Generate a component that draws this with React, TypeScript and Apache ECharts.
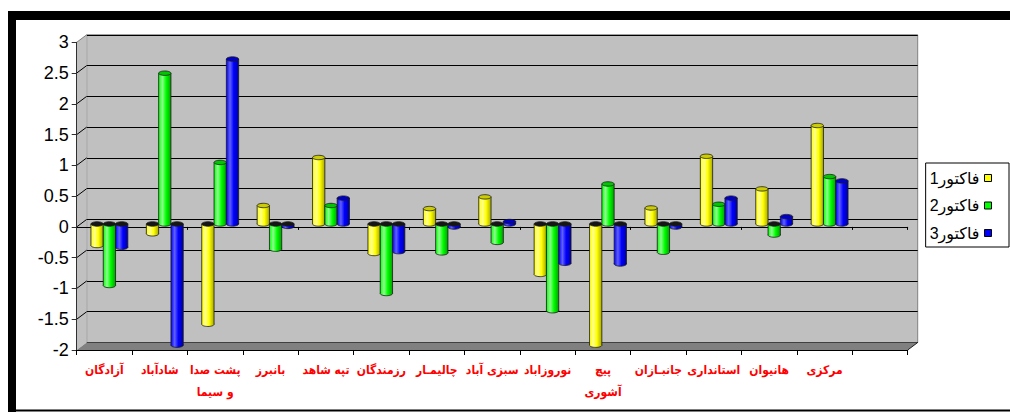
import React, { useEffect, useRef } from 'react';
import * as echarts from 'echarts';

const categories = ['آزادگان', 'شادآباد', 'پشت صدا\nو سیما', 'بانبرز', 'تپه شاهد', 'رزمندگان', 'چالیمـار', 'سبزی آباد', 'نوروزاباد', 'پیچ\nآشوری', 'جانبـازان', 'استانداری', 'هانیوان', 'مرکزی', ''];
const factor1 = [-0.35, -0.16, -1.63, 0.3, 1.08, -0.48, 0.25, 0.44, -0.82, -1.97, 0.26, 1.1, 0.57, 1.6];
const factor2 = [-1.0, 2.45, 1.0, -0.41, 0.3, -1.13, -0.47, -0.3, -1.41, 0.65, -0.46, 0.32, -0.18, 0.77];
const factor3 = [-0.38, -1.97, 2.68, -0.04, 0.42, -0.45, -0.05, 0.04, -0.64, -0.65, -0.05, 0.42, 0.12, 0.7];
const seriesNames = ['فاکتور1', 'فاکتور2', 'فاکتور3'];
const Y_MIN = -2;
const Y_MAX = 3;
const Y_STEP = 0.5;

const DX = 10;
const DY = -7.5;

const palettes = [
  { base: '#ffff00', light: '#ffff90', dark: '#a8a800', cap: '#cccc00' },
  { base: '#00ff00', light: '#90ff90', dark: '#00a000', cap: '#00c800' },
  { base: '#0000ff', light: '#6060ff', dark: '#0000a0', cap: '#0000c8' },
];

function makeBarRender(s: number) {
  const pal = palettes[s];
  return (params: any, api: any) => {
    const ci = api.value(0);
    const v = api.value(1);
    if (isNaN(v)) return null;
    const band = api.size([1, 0])[0];
    const w = band * 0.222;
    const zero = api.coord([ci, 0]);
    const end = api.coord([ci, v]);
    const x0 = zero[0] + DX / 2 - 1.5 * w + s * w;
    const yz = zero[1] + DY / 2 + 0.8;
    const yv = end[1] + DY / 2 + 0.8;
    const pos = v >= 0;
    const top = Math.min(yz, yv);
    const bottom = Math.max(yz, yv);
    const ry = 2.2;
    const cx = x0 + w / 2;
    const grad = new echarts.graphic.LinearGradient(0, 0, 1, 0, [
      { offset: 0, color: pal.base },
      { offset: 0.3, color: pal.light },
      { offset: 0.6, color: pal.base },
      { offset: 1, color: pal.dark },
    ]);
    const stroke = '#1a1a1a';
    return {
      type: 'group',
      children: [
        { type: 'ellipse', shape: { cx, cy: bottom, rx: w / 2, ry }, style: { fill: grad, stroke, lineWidth: 0.8 } },
        { type: 'rect', shape: { x: x0, y: top, width: w, height: bottom - top }, style: { fill: grad } },
        { type: 'line', shape: { x1: x0, y1: top, x2: x0, y2: bottom }, style: { stroke, lineWidth: 0.8 } },
        { type: 'line', shape: { x1: x0 + w, y1: top, x2: x0 + w, y2: bottom }, style: { stroke, lineWidth: 0.8 } },
        { type: 'ellipse', shape: { cx, cy: top, rx: w / 2, ry }, style: { fill: pos ? pal.cap : '#151515', stroke, lineWidth: 0.8 } },
      ],
    };
  };
}

function decorRender(params: any, api: any) {
  const band = api.size([1, 0])[0];
  const xL = api.coord([0, 0])[0] - band / 2;
  const xR = api.coord([categories.length - 1, 0])[0] + band / 2;
  const yTop = api.coord([0, Y_MAX])[1];
  const yBot = api.coord([0, Y_MIN])[1];
  const children: any[] = [
    {
      type: 'polygon',
      shape: { points: [[xL, yTop], [xL + DX, yTop + DY], [xL + DX, yBot + DY], [xL, yBot]] },
      style: { fill: '#c0c0c0' },
    },
    {
      type: 'polygon',
      shape: { points: [[xL, yBot], [xR, yBot], [xR + DX, yBot + DY], [xL + DX, yBot + DY]] },
      style: { fill: '#808080' },
    },
    { type: 'line', shape: { x1: xL, y1: yTop, x2: xL + DX, y2: yTop + DY }, style: { stroke: '#808080', lineWidth: 1 } },
    { type: 'line', shape: { x1: xR, y1: yBot, x2: xR + DX, y2: yBot + DY }, style: { stroke: '#202020', lineWidth: 1 } },
  ];
  for (let v = Y_MIN + Y_STEP; v < Y_MAX - 1e-9; v += Y_STEP) {
    const y = api.coord([0, v])[1];
    children.push({ type: 'line', shape: { x1: xL, y1: y, x2: xL + DX, y2: y + DY }, style: { stroke: '#000', lineWidth: 1 } });
  }
  return { type: 'group', children };
}

export default function App() {
  const ref = useRef<HTMLDivElement>(null);
  useEffect(() => {
    if (!ref.current) return;
    const chart = echarts.init(ref.current, null, { renderer: 'svg' });
    const factors = [factor1, factor2, factor3];
    const W = 1010;
    const H = 412;
    const front = { left: 76.7, top: 42.3, right: W - 907.7, bottom: H - 350 };
    const back = { left: front.left + DX, top: front.top + DY, right: front.right - DX, bottom: front.bottom - DY };
    const option: any = {
      animation: false,
      backgroundColor: '#ffffff',
      textStyle: { fontFamily: 'Arial, "Liberation Sans", "DejaVu Sans", sans-serif' },
      graphic: [
        { type: 'rect', shape: { x: 8, y: 11, width: 1002, height: 9 }, style: { fill: '#000' }, z: 10 },
        { type: 'rect', shape: { x: 8, y: 11, width: 8, height: 401 }, style: { fill: '#000' }, z: 10 },
        { type: 'rect', shape: { x: 8, y: 409.5, width: 1002, height: 2 }, style: { fill: '#000' }, z: 10 },
      ],
      grid: [
        { ...front, containLabel: false },
        { ...back, containLabel: false, show: true, backgroundColor: '#c0c0c0', borderColor: '#808080', borderWidth: 1, z: -1 },
      ],
      legend: {
        data: seriesNames,
        orient: 'vertical',
        align: 'right',
        right: 1,
        top: 163,
        padding: [6, 17, 5, 4],
        itemGap: 9.5,
        itemWidth: 7,
        itemHeight: 7,
        icon: 'rect',
        backgroundColor: '#ffffff',
        borderColor: '#000',
        borderWidth: 1,
        itemStyle: { borderColor: '#000', borderWidth: 1 },
        textStyle: { fontSize: 16, color: '#000', lineHeight: 18, fontFamily: 'Arial, "Liberation Sans", "DejaVu Sans", sans-serif' },
      },
      xAxis: [
        {
          type: 'category',
          gridIndex: 0,
          data: categories,
          boundaryGap: true,
          z: 3,
          axisLine: { onZero: false, lineStyle: { color: '#000', width: 1 } },
          axisTick: { show: true, length: 5, alignWithLabel: false, lineStyle: { color: '#000' } },
          axisLabel: {
            interval: 0,
            color: '#ff0000',
            fontWeight: 'bold',
            fontSize: 12,
            lineHeight: 22,
            margin: 9,
            fontFamily: '"DejaVu Sans Condensed", "DejaVu Sans", sans-serif',
          },
        },
        {
          type: 'category',
          gridIndex: 0,
          data: categories,
          boundaryGap: true,
          z: 1.5,
          position: 'bottom',
          axisLine: { onZero: true, lineStyle: { color: '#000', width: 1 } },
          axisTick: { show: true, length: 3, lineStyle: { color: '#000' } },
          axisLabel: { show: false },
        },
        {
          type: 'category',
          gridIndex: 1,
          data: categories,
          show: false,
        },
      ],
      yAxis: [
        {
          type: 'value',
          gridIndex: 0,
          min: Y_MIN,
          max: Y_MAX,
          interval: Y_STEP,
          z: 3,
          axisLine: { show: true, lineStyle: { color: '#303030', width: 1 } },
          axisTick: { show: true, length: 5, lineStyle: { color: '#303030' } },
          axisLabel: { fontSize: 18, color: '#000', margin: 8 },
          splitLine: { show: false },
        },
        {
          type: 'value',
          gridIndex: 1,
          min: Y_MIN,
          max: Y_MAX,
          interval: Y_STEP,
          axisLine: { show: false },
          axisTick: { show: false },
          axisLabel: { show: false },
          splitLine: { show: true, lineStyle: { color: '#000', width: 1 } },
        },
      ],
      series: [
        {
          type: 'custom',
          name: 'decor',
          xAxisIndex: 0,
          yAxisIndex: 0,
          z: 1,
          silent: true,
          data: [[0, 0]],
          renderItem: decorRender,
        },
        ...factors.map((arr, s) => ({
          type: 'custom',
          name: seriesNames[s],
          xAxisIndex: 0,
          yAxisIndex: 0,
          z: 2,
          itemStyle: { color: palettes[s].base, borderColor: '#000', borderWidth: 1 },
          encode: { x: 0, y: 1 },
          data: arr.map((v, i) => [i, v]),
          renderItem: makeBarRender(s),
        })),
      ],
    };
    chart.setOption(option);
    return () => chart.dispose();
  }, []);
  return <div ref={ref} style={{ position: 'fixed', left: 0, top: 0, width: 1010, height: 412 }} />;
}
